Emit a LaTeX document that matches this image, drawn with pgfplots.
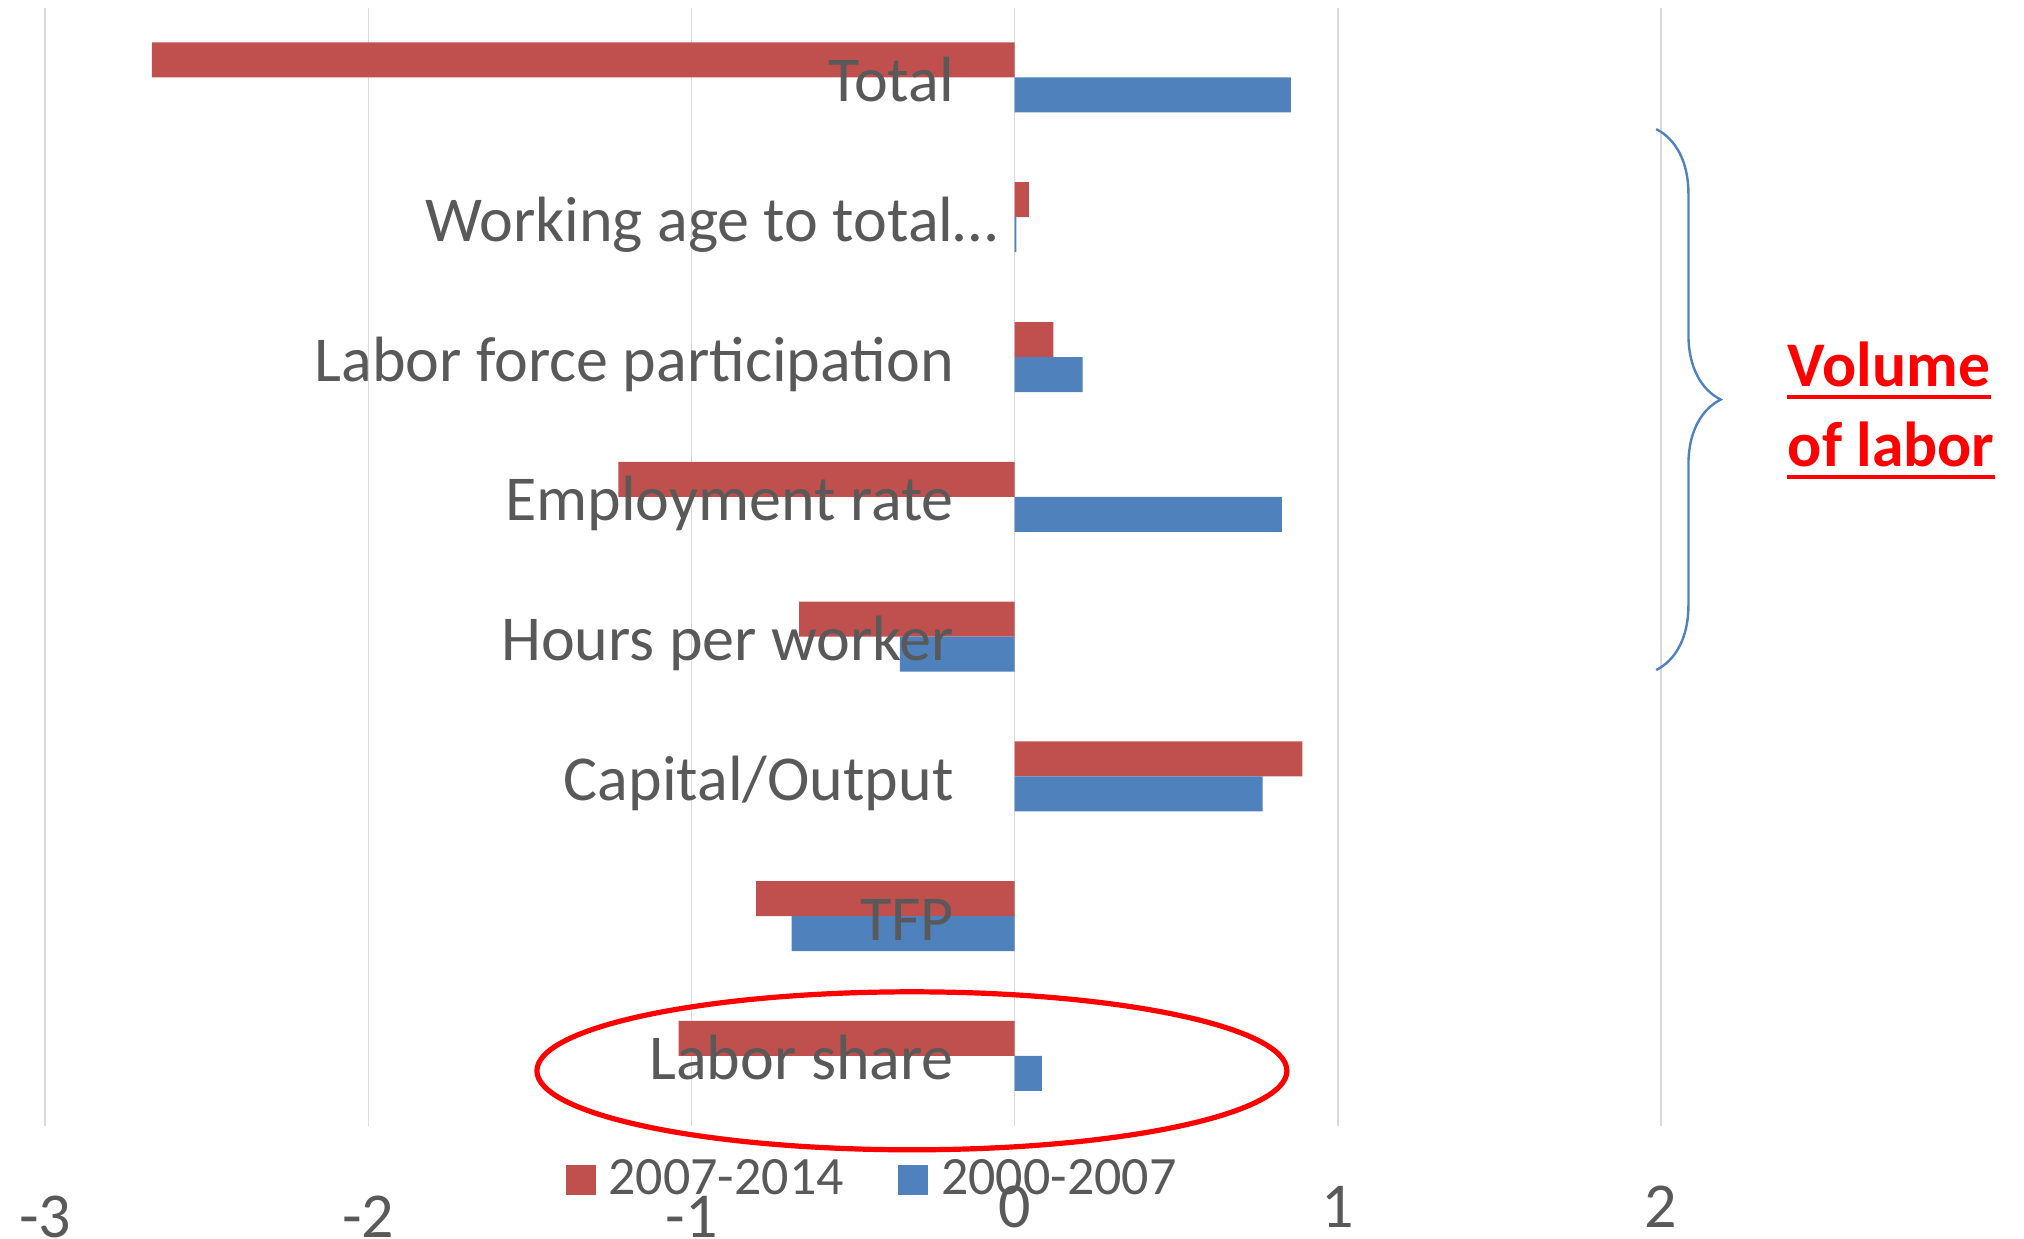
\documentclass[border=0pt]{standalone}
\usepackage{pgfplots}
\pgfplotsset{compat=1.18}
\usepackage{fontspec}
\setmainfont{Carlito}
\usetikzlibrary{decorations.pathreplacing}

\definecolor{redbar}{HTML}{C0504D}
\definecolor{bluebar}{HTML}{4F81BD}
\definecolor{txt}{HTML}{595959}
\definecolor{gridc}{HTML}{D9D9D9}

\begin{document}
\begin{tikzpicture}
\path[use as bounding box] (0,0) rectangle (506pt,309.75pt);
\begin{axis}[
    at={(11.3pt,28.275pt)}, anchor=south west,
    scale only axis, width=403.95pt, height=279.6pt,
    xmin=-3, xmax=2, ymin=-0.5, ymax=7.5,
    axis line style={draw=none},
    xtick={-3,-2,-1,0,1,2},
    xticklabels={\raisebox{-2.5pt}{-3},\raisebox{-2.5pt}{-2},\raisebox{-2.5pt}{-1},0,1,2},
    ytick=\empty,
    major tick length=0pt,
    xmajorgrids=true,
    grid style={gridc, line width=0.4pt},
    xticklabel style={anchor=base, yshift=-25.5pt, text=txt, font=\fontsize{16}{19}\selectfont},
    xbar, bar width=8.75pt,
    clip=false,
    legend columns=2,
    legend style={at={(0.3217,-0.0485)}, anchor=west, draw=none, fill=none,
        inner sep=0pt, text=txt, font=\fontsize{13.5}{16}\selectfont,
        nodes={inner xsep=3.15pt},
        /tikz/every even column/.append style={column sep=10.5pt}},
    legend image code/.code={\fill[#1] (0pt,-3.75pt) rectangle (7.5pt,3.75pt);},
]
% 2007-2014
\addplot[fill=redbar, draw=none, bar shift=4.375pt] coordinates {
(-2.67,7) (0.044,6) (0.12,5) (-1.226,4) (-0.667,3) (0.89,2) (-0.80,1) (-1.04,0)
};
% 2000-2007
\addplot[fill=bluebar, draw=none, bar shift=-4.375pt] coordinates {
(0.855,7) (0.005,6) (0.21,5) (0.827,4) (-0.355,3) (0.767,2) (-0.69,1) (0.084,0)
};
\legend{2007-2014, 2000-2007}

% category names beside the zero line
\begin{scope}[every node/.style={anchor=base east, inner sep=0pt, text=txt, font=\fontsize{16}{19}\selectfont, yshift=-6pt}]
\node at (axis cs:-0.186,7) {Total};
\node at (axis cs:-0.050,6) {Working age to total…};
\node at (axis cs:-0.186,5) {Labor force participation};
\node at (axis cs:-0.186,4) {Employment rate};
\node at (axis cs:-0.186,3) {Hours per worker};
\node at (axis cs:-0.186,2) {Capital/Output};
\node at (axis cs:-0.186,1) {TFP};
\node at (axis cs:-0.186,0) {Labor share};
\end{scope}

% annotations
\draw[red, line width=1.3pt] (axis cs:-0.318,-0.106) ellipse [x radius=93.75pt, y radius=19.75pt];
\draw[bluebar, line width=0.6pt, decorate, decoration={brace, amplitude=16.15pt}]
    (axis cs:1.985,6.63) -- (axis cs:1.985,2.761);
\end{axis}

\node[anchor=base west, inner sep=0pt, text=red, font=\fontsize{15.9}{18}\selectfont\bfseries] (v1) at (446.75pt,213pt) {Volume};
\node[anchor=base west, inner sep=0pt, text=red, font=\fontsize{15.9}{18}\selectfont\bfseries] (v2) at (446.75pt,193pt) {of labor};
\draw[red, line width=0.85pt] ([yshift=-2.5pt]v1.base west) -- ([yshift=-2.5pt]v1.base east);
\draw[red, line width=0.85pt] ([yshift=-2.5pt]v2.base west) -- ([yshift=-2.5pt]v2.base east);
\end{tikzpicture}
\end{document}
